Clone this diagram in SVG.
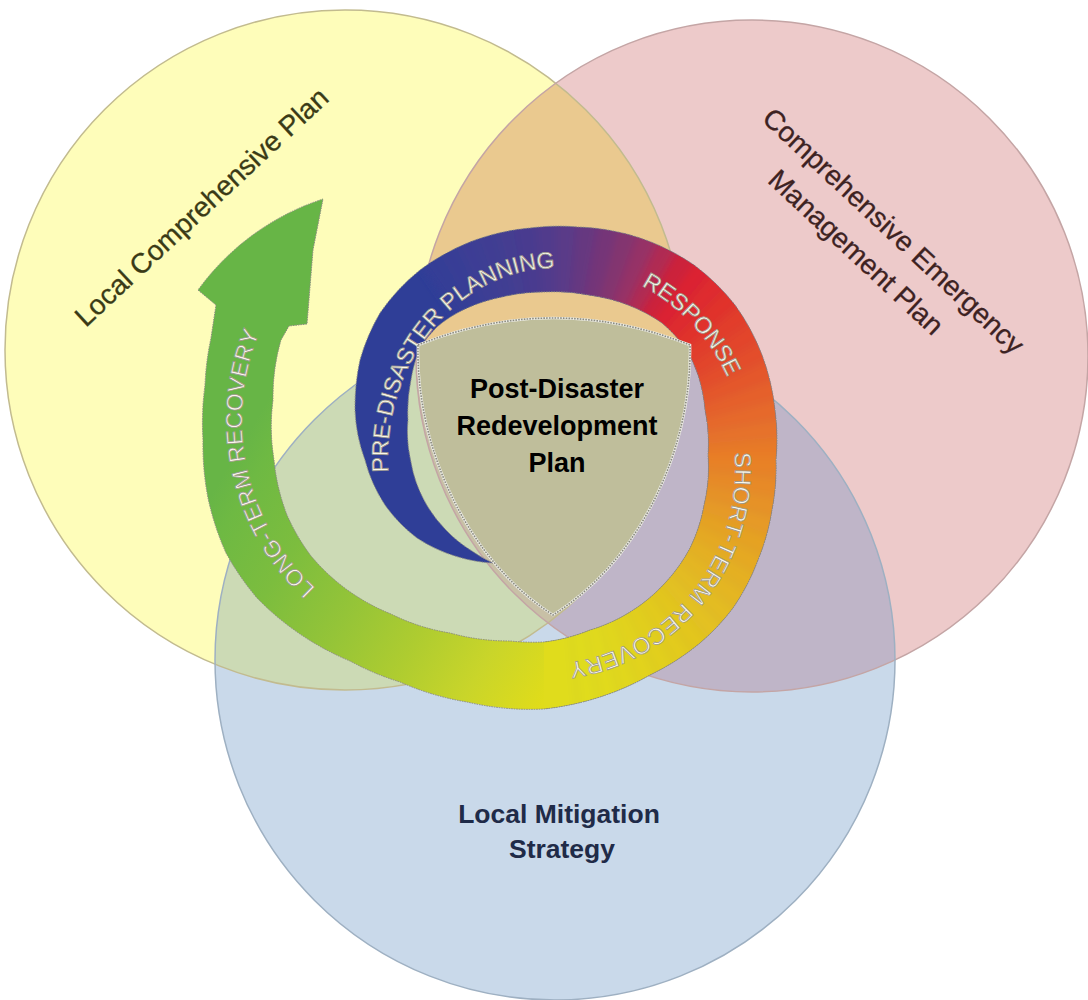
<svg xmlns="http://www.w3.org/2000/svg" width="1088" height="1000" viewBox="0 0 1088 1000">
<defs>
<style>
.lbl{font-family:"Liberation Sans",Arial,sans-serif;}
.ringt{font-family:"Liberation Sans",Arial,sans-serif;font-size:23px;fill:#FAF8EC;stroke:#9A968A;stroke-width:0.75px;}
.shieldt{font-family:"Liberation Sans",Arial,sans-serif;font-size:27px;font-weight:bold;fill:#000;text-anchor:middle;}
</style>
<clipPath id="cY"><circle cx="345" cy="350" r="340"/></clipPath>
<clipPath id="cP"><circle cx="752" cy="356" r="336"/></clipPath>
<clipPath id="cLap1"><path d="M 493 563 A 150 150 0 0 1 455 556 A 150 150 0 0 1 417 538 A 150 150 0 0 1 385 505 A 150 150 0 0 1 365 460 A 160 160 0 0 1 355 410 A 220 220 0 0 1 360 360 A 200 200 0 0 1 380 313 A 200 200 0 0 1 420 270 A 220 220 0 0 1 470 242 A 220 220 0 0 1 530 228 A 220 220 0 0 1 578 227 A 220 220 0 0 1 640 238 A 220 220 0 0 1 694 265 A 220 220 0 0 1 735 305 A 220 220 0 0 1 762 355 A 220 220 0 0 1 775 410 A 220 220 0 0 1 776 460 A 220 220 0 0 1 772 510 A 220 220 0 0 1 758 560 A 220 220 0 0 1 733 608 A 220 220 0 0 1 700 643 A 240 240 0 0 1 650 675 A 260 260 0 0 1 600 697 A 280 280 0 0 1 544 709 L 544 642 A 180 180 0 0 0 590 630 A 160 160 0 0 0 630 612 A 160 160 0 0 0 665 583 A 160 160 0 0 0 690 548 A 160 160 0 0 0 704 505 A 160 160 0 0 0 708 455 A 160 160 0 0 0 705 410 A 160 160 0 0 0 698 375 A 140 140 0 0 0 686 349 A 140 140 0 0 0 662 323 A 160 160 0 0 0 628 305 A 180 180 0 0 0 588 295 A 180 180 0 0 0 545 292 A 180 180 0 0 0 502 297 A 160 160 0 0 0 465 309 A 120 120 0 0 0 437 327 A 120 120 0 0 0 420 348 A 140 140 0 0 0 411 380 A 160 160 0 0 0 408 420 A 130 130 0 0 0 411 462 A 127 127 0 0 0 424 500 A 127 127 0 0 0 446 530 A 127 127 0 0 0 472 551 A 127 127 0 0 0 493 563 Z"/></clipPath>
<filter id="soft" x="-20%" y="-20%" width="140%" height="140%"><feGaussianBlur stdDeviation="4.5"/></filter>
<linearGradient id="gLap2" gradientUnits="userSpaceOnUse" x1="556" y1="680" x2="220" y2="480">
<stop offset="0" stop-color="#E0DC1A"/>
<stop offset="0.18" stop-color="#C9D52A"/>
<stop offset="0.36" stop-color="#AECC30"/>
<stop offset="0.55" stop-color="#94C438"/>
<stop offset="0.75" stop-color="#7CBD3E"/>
<stop offset="0.93" stop-color="#6EB943"/>
<stop offset="1" stop-color="#67B546"/>
</linearGradient>
<path id="tpPre" d="M 388.5 472 A 168 190 0 0 1 613.5 279.4"/>
<path id="tpResp" d="M 641.6 285.8 A 195 195 0 0 1 744.3 441"/>
<path id="tpShort" d="M 734.3 453 A 195 195 0 0 1 506.1 662"/>
<path id="tpLong" d="M 329.6 599.7 A 228 228 0 0 1 283.2 289.2"/>
</defs>
<rect width="1088" height="1000" fill="#FFFFFF"/>

<g id="circle-local-comprehensive-plan">
<circle cx="345" cy="350" r="340" fill="#FEFDBA"/>
<text class="lbl" transform="translate(208 214) rotate(-43)" text-anchor="middle" font-size="28" fill="#3A3A16" stroke="#3A3A16" stroke-width="0.3">Local Comprehensive Plan</text>
</g>
<g id="circle-comprehensive-emergency-management-plan">
<circle cx="752" cy="356" r="336" fill="#EDCACA"/>
<g transform="translate(887 238) rotate(43)">
<text class="lbl" x="0" y="0" text-anchor="middle" font-size="28" fill="#3D2222" stroke="#3D2222" stroke-width="0.3">Comprehensive Emergency</text>
<text class="lbl" x="-13" y="41" text-anchor="middle" font-size="28" fill="#3D2222" stroke="#3D2222" stroke-width="0.3">Management Plan</text>
</g>
</g>
<g id="circle-local-mitigation-strategy">
<circle cx="555" cy="660" r="340" fill="#C9D9EA"/>
<text class="lbl" x="559" y="823" text-anchor="middle" font-size="26.5" font-weight="bold" fill="#1F2B48">Local Mitigation</text>
<text class="lbl" x="562" y="858" text-anchor="middle" font-size="26.5" font-weight="bold" fill="#1F2B48">Strategy</text>
</g>
<g id="overlaps">
<circle cx="752" cy="356" r="336" fill="#EAC98F" clip-path="url(#cY)"/>
<circle cx="555" cy="660" r="340" fill="#CCDAB5" clip-path="url(#cY)"/>
<circle cx="555" cy="660" r="340" fill="#BFB5C8" clip-path="url(#cP)"/>
<g clip-path="url(#cP)"><circle cx="555" cy="660" r="340" fill="#C8C0A6" clip-path="url(#cY)"/></g>
</g>
<g id="circle-outlines" fill="none" stroke-width="1.5">
<circle cx="345" cy="350" r="340" stroke="#C2BB8F"/>
<circle cx="752" cy="356" r="336" stroke="#C4A5A5"/>
<circle cx="555" cy="660" r="340" stroke="#9EB0C2"/>
</g>

<g id="connectors">
<g id="cycle-arrow">
<path d="M 556 707 A 280 280 0 0 1 544 709 A 275 275 0 0 1 467 702 A 275 275 0 0 1 400 682 A 275 275 0 0 1 350 661 A 275 275 0 0 1 300 634 A 275 275 0 0 1 257 598 A 275 275 0 0 1 226 553 A 275 275 0 0 1 208 498 A 275 275 0 0 1 203 440 A 275 275 0 0 1 205 385 A 275 275 0 0 1 211 338 L 216 305 L 198 290 A 250 250 0 0 1 323 199 L 313 250 L 307 324 L 289 326 L 281 340 A 205 205 0 0 0 273 400 A 205 205 0 0 0 274 460 A 205 205 0 0 0 287 515 A 205 205 0 0 0 311 556 A 205 205 0 0 0 346 589 A 205 205 0 0 0 391 614 A 205 205 0 0 0 450 633 A 220 220 0 0 0 510 641 A 220 220 0 0 0 556 641 Z" fill="url(#gLap2)"/>
<g clip-path="url(#cLap1)">
<rect x="300" y="150" width="520" height="600" fill="#2F3E97"/>
<g filter="url(#soft)">
<polygon points="556,458 372.4,195.9 396,180.9" fill="#363E96"/>
<polygon points="556,458 396,180.9 420.8,168" fill="#393E95"/>
<polygon points="556,458 420.8,168 446.6,157.3" fill="#3C3D94"/>
<polygon points="556,458 446.6,157.3 473.2,148.9" fill="#3F3D93"/>
<polygon points="556,458 473.2,148.9 500.4,142.9" fill="#443C91"/>
<polygon points="556,458 500.4,142.9 528.1,139.2" fill="#4A3B8F"/>
<polygon points="556,458 528.1,139.2 556,138" fill="#513A8C"/>
<polygon points="556,458 556,138 583.9,139.2" fill="#5A3A88"/>
<polygon points="556,458 583.9,139.2 611.6,142.9" fill="#663880"/>
<polygon points="556,458 611.6,142.9 638.8,148.9" fill="#743678"/>
<polygon points="556,458 638.8,148.9 665.4,157.3" fill="#83346F"/>
<polygon points="556,458 665.4,157.3 691.2,168" fill="#963066"/>
<polygon points="556,458 691.2,168 716,180.9" fill="#B02A52"/>
<polygon points="556,458 716,180.9 739.6,195.9" fill="#CC243A"/>
<polygon points="556,458 739.6,195.9 761.7,212.9" fill="#DC2230"/>
<polygon points="556,458 761.7,212.9 782.3,231.7" fill="#DF2A2D"/>
<polygon points="556,458 782.3,231.7 801.1,252.3" fill="#E1332C"/>
<polygon points="556,458 801.1,252.3 818.1,274.4" fill="#E23C2B"/>
<polygon points="556,458 818.1,274.4 833.1,298" fill="#E3452B"/>
<polygon points="556,458 833.1,298 846,322.8" fill="#E44E2A"/>
<polygon points="556,458 846,322.8 856.7,348.6" fill="#E5572A"/>
<polygon points="556,458 856.7,348.6 865.1,375.2" fill="#E6602A"/>
<polygon points="556,458 865.1,375.2 871.1,402.4" fill="#E7692A"/>
<polygon points="556,458 871.1,402.4 874.8,430.1" fill="#E77229"/>
<polygon points="556,458 874.8,430.1 876,458" fill="#E87A28"/>
<polygon points="556,458 876,458 874.8,485.9" fill="#E88228"/>
<polygon points="556,458 874.8,485.9 871.1,513.6" fill="#E88A27"/>
<polygon points="556,458 871.1,513.6 865.1,540.8" fill="#E79226"/>
<polygon points="556,458 865.1,540.8 856.7,567.4" fill="#E79A25"/>
<polygon points="556,458 856.7,567.4 846,593.2" fill="#E6A224"/>
<polygon points="556,458 846,593.2 833.1,618" fill="#E6A923"/>
<polygon points="556,458 833.1,618 818.1,641.6" fill="#E5B022"/>
<polygon points="556,458 818.1,641.6 801.1,663.7" fill="#E5B622"/>
<polygon points="556,458 801.1,663.7 782.3,684.3" fill="#E4BC21"/>
<polygon points="556,458 782.3,684.3 761.7,703.1" fill="#E4C120"/>
<polygon points="556,458 761.7,703.1 739.6,720.1" fill="#E3C61F"/>
<polygon points="556,458 739.6,720.1 716,735.1" fill="#E3CB1E"/>
<polygon points="556,458 716,735.1 691.2,748" fill="#E2CF1D"/>
<polygon points="556,458 691.2,748 665.4,758.7" fill="#E2D31C"/>
<polygon points="556,458 665.4,758.7 638.8,767.1" fill="#E1D71C"/>
<polygon points="556,458 638.8,767.1 611.6,773.1" fill="#E1DA1B"/>
<polygon points="556,458 611.6,773.1 583.9,776.8" fill="#E0DC1A"/>
<polygon points="556,458 583.9,776.8 556,778 528.1,776.8 500.4,773.1" fill="#E0DC1A"/>
</g>
</g>
<path d="M 493 563 A 150 150 0 0 1 455 556 A 150 150 0 0 1 417 538 A 150 150 0 0 1 385 505 A 150 150 0 0 1 365 460 A 160 160 0 0 1 355 410 A 220 220 0 0 1 360 360 A 200 200 0 0 1 380 313 A 200 200 0 0 1 420 270 A 220 220 0 0 1 470 242 A 220 220 0 0 1 530 228 A 220 220 0 0 1 578 227 A 220 220 0 0 1 640 238 A 220 220 0 0 1 694 265 A 220 220 0 0 1 735 305 A 220 220 0 0 1 762 355 A 220 220 0 0 1 775 410 A 220 220 0 0 1 776 460 A 220 220 0 0 1 772 510 A 220 220 0 0 1 758 560 A 220 220 0 0 1 733 608 A 220 220 0 0 1 700 643 A 240 240 0 0 1 650 675 A 260 260 0 0 1 600 697 A 280 280 0 0 1 544 709 A 275 275 0 0 1 467 702 A 275 275 0 0 1 400 682 A 275 275 0 0 1 350 661 A 275 275 0 0 1 300 634 A 275 275 0 0 1 257 598 A 275 275 0 0 1 226 553 A 275 275 0 0 1 208 498 A 275 275 0 0 1 203 440 A 275 275 0 0 1 205 385 A 275 275 0 0 1 211 338 L 216 305 L 198 290 A 250 250 0 0 1 323 199 L 313 250 L 307 324 L 289 326 L 281 340 A 205 205 0 0 0 273 400 A 205 205 0 0 0 274 460 A 205 205 0 0 0 287 515 A 205 205 0 0 0 311 556 A 205 205 0 0 0 346 589 A 205 205 0 0 0 391 614 A 205 205 0 0 0 450 633 A 220 220 0 0 0 510 641 A 220 220 0 0 0 544 642 A 180 180 0 0 0 590 630 A 160 160 0 0 0 630 612 A 160 160 0 0 0 665 583 A 160 160 0 0 0 690 548 A 160 160 0 0 0 704 505 A 160 160 0 0 0 708 455 A 160 160 0 0 0 705 410 A 160 160 0 0 0 698 375 A 140 140 0 0 0 686 349 A 140 140 0 0 0 662 323 A 160 160 0 0 0 628 305 A 180 180 0 0 0 588 295 A 180 180 0 0 0 545 292 A 180 180 0 0 0 502 297 A 160 160 0 0 0 465 309 A 120 120 0 0 0 437 327 A 120 120 0 0 0 420 348 A 140 140 0 0 0 411 380 A 160 160 0 0 0 408 420 A 130 130 0 0 0 411 462 A 127 127 0 0 0 424 500 A 127 127 0 0 0 446 530 A 127 127 0 0 0 472 551 A 127 127 0 0 0 493 563 Z" fill="none" stroke="#8A8A82" stroke-width="1" stroke-dasharray="1.5 1"/>
<text class="ringt"><textPath href="#tpPre">PRE-DISASTER PLANNING</textPath></text>
<text class="ringt"><textPath href="#tpResp">RESPONSE</textPath></text>
<text class="ringt" letter-spacing="0.4"><textPath href="#tpShort">SHORT-TERM RECOVERY</textPath></text>
<text class="ringt" letter-spacing="0.3"><textPath href="#tpLong" startOffset="18">LONG-TERM RECOVERY</textPath></text>
</g>
</g>

<g id="node-post-disaster-redevelopment-plan">
<path d="M 418 345 Q 553 291 690 345 C 692 450 640 560 553 615 C 468 560 416 450 418 345 Z" fill="#BFBE9B" stroke="#ECECE4" stroke-width="2.6"/>
<path d="M 418 345 Q 553 291 690 345 C 692 450 640 560 553 615 C 468 560 416 450 418 345 Z" fill="none" stroke="#8B8B80" stroke-width="1.6" stroke-dasharray="1.6 1.2"/>
<text class="shieldt" x="557" y="398">Post-Disaster</text>
<text class="shieldt" x="557" y="435">Redevelopment</text>
<text class="shieldt" x="557" y="472">Plan</text>
</g>
</svg>
